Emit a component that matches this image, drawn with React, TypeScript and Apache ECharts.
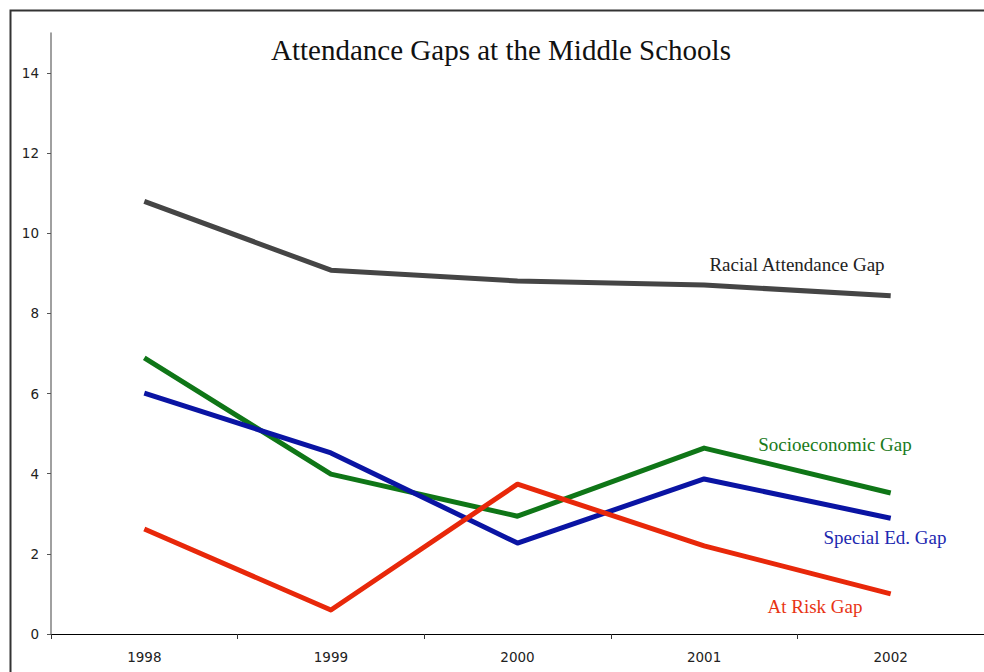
import React, { useEffect, useRef } from "react";
import * as echarts from "echarts";

const years = ["1998", "1999", "2000", "2001", "2002"];
const racialGap = [10.8, 9.08, 8.81, 8.71, 8.44];
const socioGap = [6.89, 3.99, 2.94, 4.64, 3.52];
const specialEdGap = [6.01, 4.52, 2.27, 3.87, 2.89];
const atRiskGap = [2.62, 0.6, 3.74, 2.2, 1.0];
const yTicks = [0, 2, 4, 6, 8, 10, 12, 14];

const serif = "'Liberation Serif', 'Times New Roman', serif";
const sans = "'DejaVu Sans', Verdana, sans-serif";

export default function App() {
  const ref = useRef<HTMLDivElement>(null);
  useEffect(() => {
    if (!ref.current) return;
    const chart = echarts.init(ref.current, undefined, { renderer: "svg" });
    const mk = (name: string, data: number[], color: string) => ({
      name,
      type: "line",
      data,
      symbol: "none",
      lineStyle: { color, width: 5, cap: "butt", join: "round" },
      itemStyle: { color },
      z: 3,
    });
    chart.setOption({
      animation: false,
      backgroundColor: "#ffffff",
      grid: { left: 51, right: 0, top: 33, bottom: 38, containLabel: false },
      xAxis: {
        type: "category",
        data: years,
        boundaryGap: true,
        axisLine: { lineStyle: { color: "#000000", width: 1.2 } },
        axisTick: { show: true, length: 5, lineStyle: { color: "#333", width: 1 } },
        axisLabel: { color: "#222", fontFamily: sans, fontSize: 13.5, margin: 16 },
        splitLine: { show: false },
      },
      yAxis: {
        type: "value",
        min: 0,
        max: 15,
        interval: 1,
        axisLine: { show: true, lineStyle: { color: "#808080", width: 1.5 } },
        axisTick: { show: true, length: 4, customValues: yTicks, lineStyle: { color: "#555", width: 1 } },
        axisLabel: { color: "#222", fontFamily: sans, fontSize: 13.5, margin: 12, customValues: yTicks },
        splitLine: { show: false },
      },
      graphic: [
        {
          type: "rect",
          left: 8,
          top: 8,
          shape: { x: 0, y: 0, width: 1000, height: 700 },
          style: { fill: "none", stroke: "#333", lineWidth: 2 },
          z: 1,
          silent: true,
        },
        {
          type: "text",
          x: 501,
          y: 50,
          style: {
            text: "Attendance Gaps at the Middle Schools",
            font: `29px ${serif}`,
            fill: "#111",
            align: "center",
            verticalAlign: "middle",
          },
        },
        {
          type: "text",
          x: 797,
          y: 264,
          style: { text: "Racial Attendance Gap", font: `19px ${serif}`, fill: "#222", align: "center", verticalAlign: "middle" },
        },
        {
          type: "text",
          x: 835,
          y: 444,
          style: { text: "Socioeconomic Gap", font: `19px ${serif}`, fill: "#1a7a1a", align: "center", verticalAlign: "middle" },
        },
        {
          type: "text",
          x: 885,
          y: 537,
          style: { text: "Special Ed. Gap", font: `19px ${serif}`, fill: "#1c28b0", align: "center", verticalAlign: "middle" },
        },
        {
          type: "text",
          x: 815,
          y: 606,
          style: { text: "At Risk Gap", font: `19px ${serif}`, fill: "#e83414", align: "center", verticalAlign: "middle" },
        },
      ],
      series: [
        mk("Racial Attendance Gap", racialGap, "#454545"),
        mk("Socioeconomic Gap", socioGap, "#0f7617"),
        mk("Special Ed. Gap", specialEdGap, "#0a14a3"),
        mk("At Risk Gap", atRiskGap, "#e8280a"),
      ],
    });
    return () => chart.dispose();
  }, []);
  return (
    <div
      ref={ref}
      style={{ position: "fixed", left: 0, top: 0, width: 984, height: 672, background: "#fff" }}
    />
  );
}
